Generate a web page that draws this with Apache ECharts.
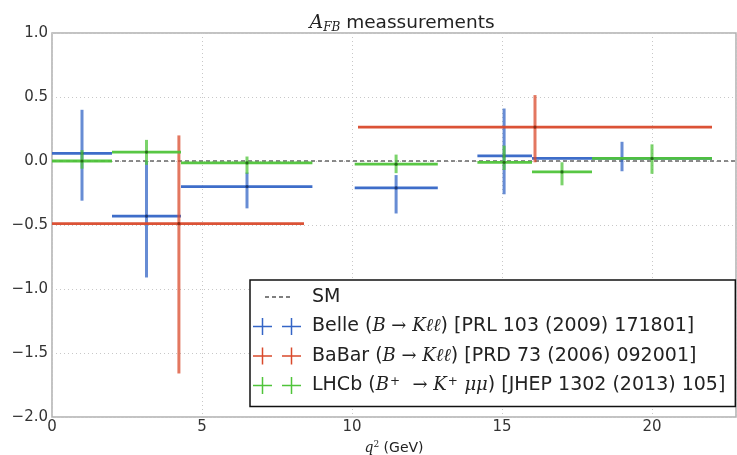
<!DOCTYPE html>
<html>
<head>
<meta charset="utf-8">
<title>A_FB measurements</title>
<script src="https://cdn.jsdelivr.net/npm/echarts@6/dist/echarts.min.js"></script>
<style>
    html, body { margin: 0; padding: 0; background: #fff; }
    #chart { width: 737px; height: 455px; }
</style>
</head>
<body>
<div id="chart"></div>
<script>
// bins: centre, low edge, high edge, value, lower end of error, upper end of error
const belleX = [1.0, 3.15, 6.5, 11.47, 15.07, 19.0];
const belleXLo = [0, 2.0, 4.3, 10.09, 14.18, 16.0];
const belleXHi = [2.0, 4.3, 8.68, 12.86, 16.0, 22.0];
const belleY = [0.06, -0.43, -0.2, -0.21, 0.04, 0.02];
const belleYLo = [-0.31, -0.91, -0.37, -0.41, -0.26, -0.08];
const belleYHi = [0.40, 0.0, -0.09, -0.11, 0.41, 0.15];

const babarX = [4.23, 16.1];
const babarXLo = [0, 10.2];
const babarXHi = [8.4, 22.0];
const babarY = [-0.49, 0.265];
const babarYLo = [-1.66, -0.01];
const babarYHi = [0.2, 0.515];

const lhcbX = [1.0, 3.15, 6.5, 11.47, 15.07, 17.0, 20.0];
const lhcbXLo = [0, 2.0, 4.3, 10.09, 14.18, 16.0, 18.0];
const lhcbXHi = [2.0, 4.3, 8.68, 12.86, 16.0, 18.0, 22.0];
const lhcbY = [0.0, 0.07, -0.015, -0.025, -0.01, -0.085, 0.02];
const lhcbYLo = [-0.06, -0.03, -0.1, -0.095, -0.07, -0.19, -0.1];
const lhcbYHi = [0.085, 0.165, 0.035, 0.05, 0.12, -0.01, 0.13];

const smX = [0, 22.8];
const smY = [0, 0];

const font = 'DejaVu Sans';
const mathFont = 'DejaVu Serif';

// two little "+" marks side by side, like the matplotlib errorbar legend handle
const crossIcon = 'path://M0,7.75H19V9.25H0Z M8.75,0H10.25V17H8.75Z M29,7.75H48V9.25H29Z M37.75,0H39.25V17H37.75Z';
// dashed line, with two invisible specks so the box stays 48x17
const dashIcon = 'path://M0,0H0.01V0.01H0Z M47.99,16.99H48V17H47.99Z M12,7.75H16V9.25H12Z M19,7.75H23V9.25H19Z M26,7.75H30V9.25H26Z M33,7.75H37V9.25H33Z';

function rows(xc, xlo, xhi, y, ylo, yhi) {
    return xc.map((x, i) => [x, y[i], xlo[i], xhi[i], ylo[i], yhi[i]]);
}

function errorBars(color, dark) {
    return function (params, api) {
        const c = api.coord([api.value(0), api.value(1)]);
        const l = api.coord([api.value(2), api.value(1)]);
        const r = api.coord([api.value(3), api.value(1)]);
        const b = api.coord([api.value(0), api.value(4)]);
        const t = api.coord([api.value(0), api.value(5)]);
        return {
            type: 'group',
            children: [
                {
                    type: 'line',
                    shape: { x1: c[0], y1: t[1], x2: c[0], y2: b[1] },
                    style: { stroke: color, lineWidth: 3, opacity: 0.75 }
                },
                {
                    type: 'line',
                    shape: { x1: l[0], y1: l[1], x2: r[0], y2: r[1] },
                    style: { stroke: color, lineWidth: 2.8, opacity: 0.95 }
                },
                {
                    type: 'circle',
                    shape: { cx: c[0], cy: c[1], r: 1.6 },
                    style: { fill: dark }
                }
            ]
        };
    };
}

function errSeries(name, data, color, dark) {
    return {
        name: name,
        type: 'custom',
        renderItem: errorBars(color, dark),
        itemStyle: { color: color },
        encode: { x: [0, 2, 3], y: [1, 4, 5] },
        data: data,
        z: 3
    };
}

const legendText = {
    SM: '{n|SM}',
    Belle: '{n|Belle (}{m|B}{a| → }{m|Kℓℓ}{n|) [PRL 103 (2009) 171801]}',
    BaBar: '{n|BaBar (}{m|B}{a| → }{m|Kℓℓ}{n|) [PRD 73 (2006) 092001]}',
    LHCb: '{n|LHCb (}{m|B}{p|+}{a|  → }{m|K}{p|+}{m| μμ}{n|) [JHEP 1302 (2013) 105]}'
};

const chart = echarts.init(document.getElementById('chart'), null, { renderer: 'canvas' });

const option = {
    animation: false,
    backgroundColor: '#fff',
    textStyle: { fontFamily: font },
    title: {
        text: '{a|A}{s|FB}{t| meassurements}',
        left: 397,
        textAlign: 'center',
        top: 7,
        textStyle: {
            fontWeight: 'normal',
            rich: {
                a: { fontFamily: mathFont, fontStyle: 'italic', fontWeight: 'normal', fontSize: 19, color: '#222' },
                s: { fontFamily: mathFont, fontStyle: 'italic', fontWeight: 'normal', fontSize: 12, color: '#222', padding: [10, 0, 0, 0] },
                t: { fontFamily: font, fontWeight: 'normal', fontSize: 18.5, color: '#222' }
            }
        }
    },
    grid: {
        left: 52,
        right: 1,
        top: 33,
        bottom: 38,
        outerBoundsMode: 'none',
        containLabel: false,
        show: true,
        borderColor: '#b0b0b0',
        borderWidth: 1.5
    },
    legend: {
        orient: 'vertical',
        left: 250,
        top: 280,
        padding: [7, 10, 11, 3],
        itemGap: 9.5,
        itemWidth: 48,
        itemHeight: 17,
        backgroundColor: '#fff',
        borderColor: '#111',
        borderWidth: 1.5,
        borderRadius: 0,
        selectedMode: false,
        data: [
            { name: 'SM', icon: dashIcon },
            { name: 'Belle', icon: crossIcon },
            { name: 'BaBar', icon: crossIcon },
            { name: 'LHCb', icon: crossIcon }
        ],
        formatter: name => legendText[name],
        textStyle: {
            fontSize: 19,
            lineHeight: 20,
            color: '#222',
            padding: [0, 0, 0, 6],
            rich: {
                n: { fontFamily: font, fontSize: 19, lineHeight: 20, color: '#222' },
                m: { fontFamily: mathFont, fontStyle: 'italic', fontSize: 18, lineHeight: 20, color: '#222' },
                a: { fontFamily: mathFont, fontSize: 18, lineHeight: 20, color: '#222' },
                p: { fontFamily: font, fontSize: 12, lineHeight: 20, color: '#222', padding: [0, 1, 8, 1] }
            }
        },
        z: 10
    },
    xAxis: {
        type: 'value',
        min: 0,
        max: 22.8,
        interval: 5,
        name: '{q|q}{s|2}{n| (GeV)}',
        nameLocation: 'middle',
        nameGap: 22,
        nameTextStyle: {
            rich: {
                q: { fontFamily: mathFont, fontStyle: 'italic', fontSize: 14, color: '#222' },
                s: { fontFamily: mathFont, fontSize: 9, color: '#222', padding: [0, 0, 7, 0] },
                n: { fontFamily: font, fontSize: 14, color: '#222' }
            }
        },
        axisLine: { show: false },
        axisTick: { show: false },
        axisLabel: {
            fontSize: 15,
            color: '#333',
            margin: 3,
            showMaxLabel: false,
            formatter: v => String(v)
        },
        splitLine: { show: true, lineStyle: { color: '#c8c8c8', type: [1, 3], width: 1 } }
    },
    yAxis: {
        type: 'value',
        min: -2,
        max: 1,
        interval: 0.5,
        axisLine: { show: false },
        axisTick: { show: false },
        axisLabel: {
            fontSize: 15,
            color: '#333',
            margin: 4,
            formatter: v => v.toFixed(1).replace('-', '−')
        },
        splitLine: { show: true, lineStyle: { color: '#c8c8c8', type: [1, 3], width: 1 } }
    },
    series: [
        {
            name: 'SM',
            type: 'line',
            data: smX.map((x, i) => [x, smY[i]]),
            symbol: 'none',
            itemStyle: { color: '#555' },
            lineStyle: { color: '#666', width: 1.3, type: [4, 3] },
            z: 2
        },
        errSeries('Belle', rows(belleX, belleXLo, belleXHi, belleY, belleYLo, belleYHi), '#3465c6', '#1c3a78'),
        errSeries('BaBar', rows(babarX, babarXLo, babarXHi, babarY, babarYLo, babarYHi), '#d9492b', '#8a2a15'),
        errSeries('LHCb', rows(lhcbX, lhcbXLo, lhcbXHi, lhcbY, lhcbYLo, lhcbYHi), '#4fc43a', '#266b1a')
    ]
};

chart.setOption(option);
</script>
</body>
</html>
